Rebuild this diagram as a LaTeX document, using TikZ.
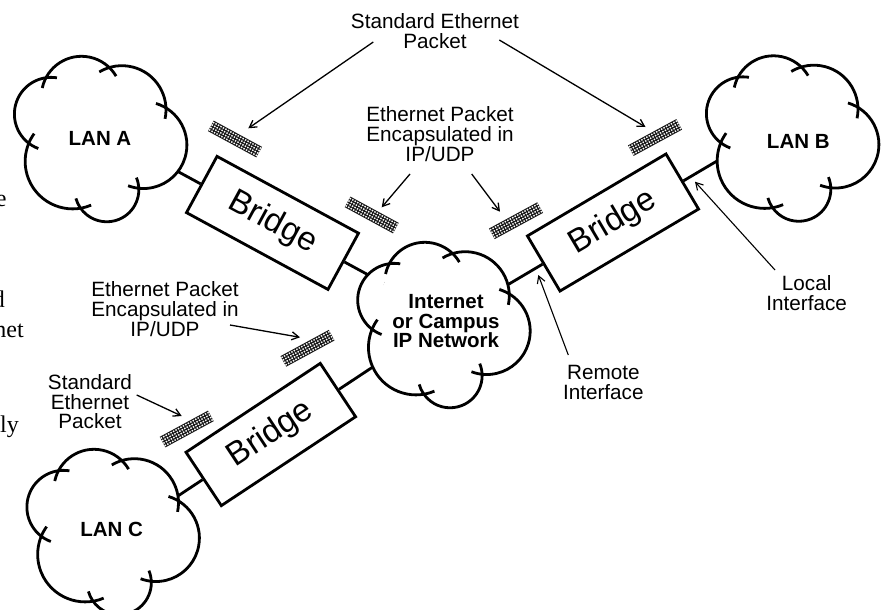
\documentclass[tikz,border=0pt]{standalone}
\usepackage{fontspec}
\setmainfont{Liberation Sans}
\newfontfamily\serifcut{Liberation Serif}
\usetikzlibrary{calc,arrows.meta}
% lobes of the cloud: start junction / end junction / sagitta
\def\cloudlobes{9.3/71/66/30.6/17, 66/30.6/38.8/-49.8/34, 38.8/-49.8/-19.4/-69.8/23, -19.4/-69.8/-71.3/-4.7/24.5, -71.3/-4.7/-54/60.8/22.5, -54/60.8/9.3/71/16}
\newcommand\lobecalc{%
  \pgfmathsetmacro\ux{(\qx)-(\px)}%
  \pgfmathsetmacro\uy{(\qy)-(\py)}%
  \pgfmathsetmacro\cl{veclen(\ux,\uy)}%
  \pgfmathsetmacro\rrr{((\cl)*(\cl)/4+(\s)*(\s))/(2*(\s))}%
  \pgfmathsetmacro\ox{((\px)+(\qx))/2+((\rrr)-(\s))*(\uy)/(\cl)}%
  \pgfmathsetmacro\oy{((\py)+(\qy))/2-((\rrr)-(\s))*(\ux)/(\cl)}%
  \pgfmathsetmacro\tp{atan2((\py)-(\oy),(\px)-(\ox))}%
  \pgfmathsetmacro\tq{atan2((\qy)-(\oy),(\qx)-(\ox))}%
  \pgfmathsetmacro\tq{((\tq)>(\tp)) ? (\tq)-360 : (\tq)}%
}
\tikzset{
  lancloud/.pic={
    \fill[white] (9.3,71) -- (66,30.6) -- (38.8,-49.8) -- (-19.4,-69.8) -- (-71.3,-4.7) -- (-54,60.8) -- cycle;
    \foreach \px/\py/\qx/\qy/\s in \cloudlobes {
      \lobecalc
      \fill[white] (\px,\py) arc[start angle=\tp, end angle=\tq, radius=\rrr] -- cycle;
    }
    \foreach \px/\py/\qx/\qy/\s in \cloudlobes {
      \lobecalc
      \pgfmathsetmacro\ov{11/(\rrr)*57.2958}
      \pgfmathsetmacro\sa{(\tp)+(\ov)}
      \pgfmathsetmacro\ea{(\tq)-(\ov)}
      \draw[line width=2.8pt] (\ox,\oy) ++(\sa:\rrr) arc[start angle=\sa, end angle=\ea, radius=\rrr];
    }
  },
  bridgebox/.style={draw, line width=2.8pt, fill=white, minimum width=161pt,
    minimum height=64pt, inner sep=0pt, font=\fontsize{33}{33}\selectfont},
  conn/.style={line width=2.8pt},
  pktbox/.style={minimum width=55pt, minimum height=12pt, inner sep=0pt},
  lbl/.style={font=\fontsize{20.7}{19.8}\selectfont, align=center, inner sep=0pt},
  cloudtxt/.style={font=\bfseries\fontsize{20.5}{19.5}\selectfont, align=center, inner sep=0pt},
  frag/.style={font=\serifcut\fontsize{24}{28}\selectfont, inner sep=0pt, anchor=base east},
  arr/.style={line width=1.3pt, -{Straight Barb[length=7pt,width=8pt]}},
  arrthin/.style={line width=1.1pt, -{Straight Barb[length=7pt,width=8pt]}}
}
\newcommand\mkpacket[3]{%
  \node[pktbox, rotate=#3] (#1) at (#2) {};
  \begin{scope}[shift={(#2)}, rotate=#3]
    \clip (-27.5,-6) rectangle (27.5,6);
    \fill[white] (-27.5,-6) rectangle (27.5,6);
    \draw[line width=1.05pt, black!90, step=2.8pt] (-30,-9) grid (30,9);
  \end{scope}}
\begin{document}
\begin{tikzpicture}[x=1pt,y=1pt]
\useasboundingbox (0,0) rectangle (886,-610);

% bridges
\node[bridgebox, rotate=-28.5] (bA) at (272.5,-222.9) {Bridge};
\node[bridgebox, rotate=30.6] (bB) at (613,-222.5) {Bridge};
\node[bridgebox, rotate=33.5] (bC) at (270.8,-434.5) {Bridge};

% cloud centres
\coordinate (cA) at (100,-138.5);
\coordinate (cB) at (792,-138);
\coordinate (cC) at (112.5,-531.5);
\coordinate (cI) at (443.3,-324.5);

% connector ports (inside the clouds)
\coordinate (pAL) at ($(bA.west)!-45pt!(bA.east)$);
\coordinate (pAR) at ($(bA.east)!-55pt!(bA.west)$);
\coordinate (pBL) at ($(bB.west)!-55pt!(bB.east)$);
\coordinate (pBR) at ($(bB.east)!-45pt!(bB.west)$);
\coordinate (pCL) at ($(bC.west)!-45pt!(bC.east)$);
\coordinate (pCR) at ($(bC.east)!-55pt!(bC.west)$);
\draw[conn] (bA.west) -- (pAL);
\draw[conn] (bA.east) -- (pAR);
\draw[conn] (bB.west) -- (pBL);
\draw[conn] (bB.east) -- (pBR);
\draw[conn] (bC.west) -- (pCL);
\draw[conn] (bC.east) -- (pCR);

% clouds
\pic at (cA) {lancloud};
\pic at (cB) {lancloud};
\pic at (cC) {lancloud};
\pic at (cI) {lancloud};

\node[cloudtxt] (lanA) at (100,-138.3) {LAN A};
\node[cloudtxt] (lanB) at (798.3,-141.7) {LAN B};
\node[cloudtxt] (lanC) at (111.7,-529) {LAN C};
\node[cloudtxt] (inet) at (446,-321.5) {Internet\\or Campus\\IP Network};

% packets
\mkpacket{pA}{235,-139}{-28.5}
\mkpacket{pC1}{371.7,-215}{-28.5}
\mkpacket{pC2}{516,-220.7}{28.5}
\mkpacket{pB}{655,-137.5}{28.5}
\mkpacket{pCi}{307.5,-348.3}{28.5}
\mkpacket{pCl}{186.7,-429}{28.5}

% labels
\node[lbl] (topLbl) at (435,-31.5) {Standard Ethernet\\Packet};
\node[lbl] (midLbl) at (440,-134) {Ethernet Packet\\Encapsulated in\\IP/UDP};
\node[lbl] (leftLbl) at (165,-309) {Ethernet Packet\\Encapsulated in\\IP/UDP};
\node[lbl] (sepLbl) at (90,-401.7) {Standard\\Ethernet\\Packet};
\node[lbl] (localLbl) at (806.7,-293.3) {Local\\Interface};
\node[lbl] (remoteLbl) at (603.3,-382.5) {Remote\\Interface};

% arrows
\coordinate (tTL) at (373.3,-42);  \coordinate (hTL) at (248.3,-128.3);
\coordinate (tTR) at (499.3,-40);  \coordinate (hTR) at (645.5,-127);
\coordinate (tML) at (410,-174);   \coordinate (hML) at (381.7,-207.3);
\coordinate (tMR) at (471.7,-174); \coordinate (hMR) at (500,-211.7);
\coordinate (tLL) at (230,-325);   \coordinate (hLL) at (300,-337.3);
\coordinate (tSL) at (136.7,-395); \coordinate (hSL) at (181.7,-416);
\coordinate (tLo) at (775,-270);   \coordinate (hLo) at (695,-181.7);
\coordinate (tRe) at (568.3,-355); \coordinate (hRe) at (538.3,-275);
\draw[arr] (tTL) -- (hTL);
\draw[arr] (tTR) -- (hTR);
\draw[arr] (tML) -- (hML);
\draw[arr] (tMR) -- (hMR);
\draw[arr] (tLL) -- (hLL);
\draw[arr] (tSL) -- (hSL);
\draw[arrthin] (tLo) -- (hLo);
\draw[arrthin] (tRe) -- (hRe);

% cut-off text at the left edge
\node[frag] (f1) at (6.7,-206) {e};
\node[frag] (f2) at (5,-307) {d};
\node[frag] (f3) at (24,-337) {net};
\node[frag] (f4) at (19,-432) {ly};
\end{tikzpicture}
\end{document}
